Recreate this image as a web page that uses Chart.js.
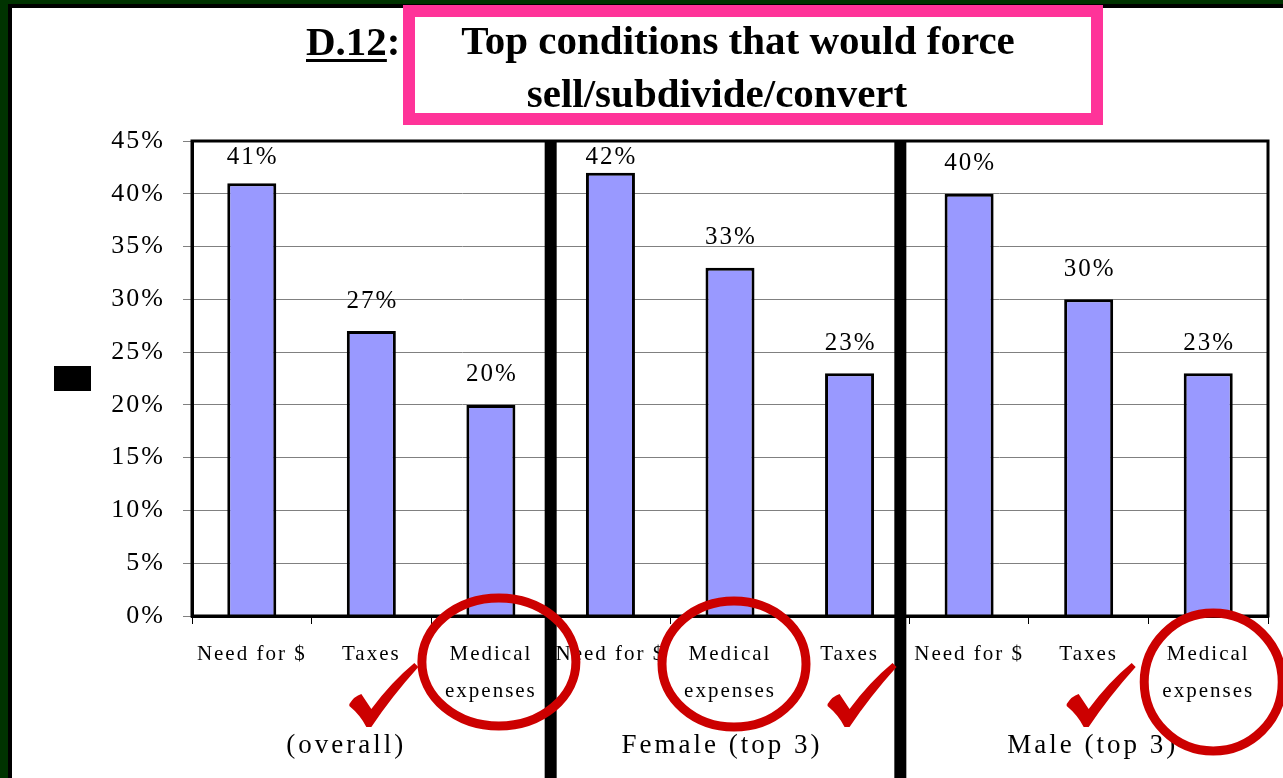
<!DOCTYPE html>
<html>
<head>
<meta charset="utf-8">
<script src="https://cdn.jsdelivr.net/npm/chart.js@4.4.1/dist/chart.umd.min.js"></script>
<style>
html, body { margin: 0; padding: 0; background: #fff; }
canvas { display: block; }
</style>
</head>
<body>
<canvas id="chart" width="1283" height="778"></canvas>
<script>
'use strict';

// Chart data
const categories = [
    'Need for $', 'Taxes', ['Medical', 'expenses'],
    'Need for $', ['Medical', 'expenses'], 'Taxes',
    'Need for $', 'Taxes', ['Medical', 'expenses']
];
const percentValues = [41, 27, 20, 42, 33, 23, 40, 30, 23];
const groupNames = ['(overall)', 'Female (top 3)', 'Male (top 3)'];
const groupSize = 3;
const yMax = 45;
const yStep = 5;

// Title texts
const titleCode = 'D.12:';
const titleLines = ['Top conditions that would force', 'sell/subdivide/convert'];

// Hand drawn marks (category index + placement)
const circleMarks = [
    { index: 2, dx: 8, y: 662, rx: 77, ry: 64 },
    { index: 4, dx: 4, y: 664, rx: 72, ry: 63 },
    { index: 8, dx: 5, y: 682, rx: 69, ry: 69 }
];
const checkMarks = [1, 5, 7];
const groupLabelShift = [-25, -8, 4];
const separatorShift = [0, -9];

const serif = '"Liberation Serif", "Times New Roman", serif';

// Draw a red brush check mark with its bottom point at (bx, by)
function drawCheck(ctx, bx, by) {
    ctx.beginPath();
    ctx.moveTo(bx - 17, by - 23);
    ctx.quadraticCurveTo(bx - 12, by - 31, bx - 5, by - 33);
    ctx.lineTo(bx + 5, by - 18);
    ctx.quadraticCurveTo(bx + 25, by - 45, bx + 48, by - 64);
    ctx.lineTo(bx + 52, by - 60);
    ctx.quadraticCurveTo(bx + 25, by - 30, bx + 5, by);
    ctx.lineTo(bx, by);
    ctx.quadraticCurveTo(bx - 6, by - 12, bx - 17, by - 21);
    ctx.closePath();
    ctx.fill();
}

const decorPlugin = {
    id: 'decor',
    beforeDraw(chart) {
        const ctx = chart.ctx;
        ctx.save();
        ctx.fillStyle = '#ffffff';
        ctx.fillRect(0, 0, chart.width, chart.height);
        ctx.fillStyle = '#003300';
        ctx.fillRect(0, 0, 8, chart.height);
        ctx.fillRect(0, 0, chart.width, 4);
        ctx.fillStyle = '#000000';
        ctx.fillRect(8, 4, 4, chart.height);
        ctx.fillRect(8, 4, chart.width, 4);
        ctx.restore();
        ctx.letterSpacing = '2px';
    },
    afterDatasetsDraw(chart) {
        const ctx = chart.ctx;
        const area = chart.chartArea;
        const meta = chart.getDatasetMeta(0);

        // Plot border
        ctx.save();
        ctx.strokeStyle = '#000';
        ctx.lineWidth = 3;
        ctx.strokeRect(area.left, area.top, area.right - area.left, area.bottom - area.top);

        // Value labels
        ctx.font = '25px ' + serif;
        ctx.letterSpacing = '2px';
        ctx.fillStyle = '#000';
        ctx.textAlign = 'center';
        ctx.textBaseline = 'middle';
        meta.data.forEach((bar, i) => {
            let y = Math.max(bar.y - 30, area.top + 16);
            ctx.fillText(percentValues[i] + '%', bar.x + 1, y);
        });
        ctx.restore();
    },
    afterDraw(chart) {
        const ctx = chart.ctx;
        const area = chart.chartArea;
        const xs = chart.scales.x;

        ctx.save();

        // Thick group separators
        ctx.fillStyle = '#000';
        for (let g = 1; g < groupNames.length; g++) {
            const i = g * groupSize;
            const x = (xs.getPixelForValue(i - 1) + xs.getPixelForValue(i)) / 2 + separatorShift[g - 1];
            ctx.fillRect(x - 6, area.top - 1, 12, chart.height - area.top + 1);
        }

        // Group labels
        ctx.font = '27px ' + serif;
        ctx.letterSpacing = '3px';
        ctx.textAlign = 'center';
        ctx.textBaseline = 'middle';
        groupNames.forEach((name, g) => {
            const x = xs.getPixelForValue(g * groupSize + 1) + groupLabelShift[g];
            ctx.fillText(name, x, 746);
        });

        // Obscured axis title box
        ctx.fillRect(54, 366, 37, 25);

        // Title box
        ctx.strokeStyle = '#FF3399';
        ctx.lineWidth = 12;
        ctx.strokeRect(409, 11, 688, 108);

        ctx.letterSpacing = '0px';
        ctx.font = 'bold 41px ' + serif;
        ctx.textBaseline = 'alphabetic';
        ctx.textAlign = 'left';
        ctx.fillText(titleCode, 306, 55);
        const codeW = ctx.measureText('D.12').width;
        ctx.fillRect(306, 59, codeW, 3);
        ctx.textAlign = 'center';
        ctx.fillText(titleLines[0], 738, 54);
        ctx.fillText(titleLines[1], 717, 107);

        // Red circles and checks
        ctx.strokeStyle = '#CC0000';
        ctx.fillStyle = '#CC0000';
        ctx.lineWidth = 9;
        circleMarks.forEach(m => {
            ctx.beginPath();
            ctx.ellipse(xs.getPixelForValue(m.index) + m.dx, m.y, m.rx, m.ry, 0, 0, Math.PI * 2);
            ctx.stroke();
        });
        checkMarks.forEach(i => {
            drawCheck(ctx, xs.getPixelForValue(i) - 5, 727);
        });

        ctx.restore();
    }
};

new Chart(document.getElementById('chart'), {
    type: 'bar',
    data: {
        labels: categories,
        datasets: [{
            data: percentValues,
            backgroundColor: '#9999FF',
            borderColor: '#000000',
            borderWidth: 3,
            borderSkipped: 'bottom',
            barPercentage: 0.82,
            categoryPercentage: 0.5
        }]
    },
    options: {
        responsive: false,
        animation: false,
        layout: {
            padding: { left: 0, top: 141, right: 15, bottom: 0 }
        },
        plugins: {
            legend: { display: false },
            tooltip: { enabled: false },
            title: { display: false }
        },
        scales: {
            x: {
                offset: true,
                grid: {
                    offset: true,
                    drawOnChartArea: false,
                    color: '#000',
                    tickLength: 8
                },
                border: { color: '#000', width: 3 },
                ticks: {
                    autoSkip: false,
                    maxRotation: 0,
                    minRotation: 0,
                    padding: 12,
                    color: '#000',
                    font: { family: serif, size: 21, lineHeight: 1.75 }
                },
                afterFit(scale) { scale.height = 162; }
            },
            y: {
                min: 0,
                max: yMax,
                ticks: {
                    stepSize: yStep,
                    padding: 18,
                    color: '#000',
                    font: { family: serif, size: 26 },
                    callback: v => v + '%'
                },
                grid: {
                    color: '#808080',
                    lineWidth: 1,
                    tickLength: 9
                },
                border: { color: '#000', width: 3 },
                afterFit(scale) { scale.width = 192; }
            }
        }
    },
    plugins: [decorPlugin]
});
</script>
</body>
</html>
